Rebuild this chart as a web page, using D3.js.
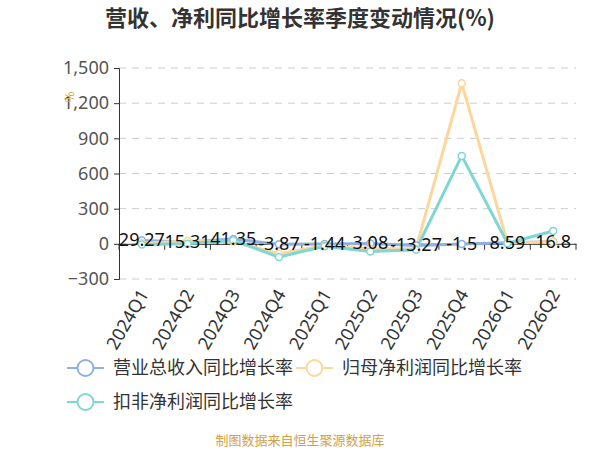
<!DOCTYPE html>
<html>
<head>
<meta charset="utf-8">
<script src="https://cdn.jsdelivr.net/npm/d3@7"></script>
<style>
  body { margin: 0; background: #fff; }
  text { font-family: "Noto Sans CJK SC", "Noto Sans", sans-serif; }
</style>
</head>
<body>
<div id="chart"></div>
<script>
let quarters = ["2024Q1", "2024Q2", "2024Q3", "2024Q4", "2025Q1", "2025Q2", "2025Q3", "2025Q4", "2026Q1", "2026Q2"]
let revenue = [29.27, 15.31, 41.35, -3.87, -1.44, 3.08, -13.27, -1.5, 8.59, 16.8]
let netProfit = [5, 25, 20, -85, -15, -45, -40, 1370, 10, 15]
let deductedProfit = [-5, 0, 30, -113, -20, -65, -50, 750, 5, 110]
let yTicks = [-300, 0, 300, 600, 900, 1200, 1500]
let seriesNames = ["营业总收入同比增长率", "归母净利润同比增长率", "扣非净利润同比增长率"]
let colors = ["#8fb0e0", "#fdd69b", "#80d6d6"]

let margin = {top: 68, right: 24, bottom: 171, left: 119}
let width = 600 - margin.left - margin.right
let height = 450 - margin.top - margin.bottom

let root = d3.select("#chart")
    .append("svg")
    .attr("width", 600)
    .attr("height", 450)

root.append("text")
    .attr("x", 300)
    .attr("y", 26)
    .attr("text-anchor", "middle")
    .style("font-size", "22px")
    .style("font-weight", "bold")
    .style("fill", "#333")
    .text("营收、净利同比增长率季度变动情况(%)")

let svg = root.append("g")
    .attr("transform", "translate(" + margin.left + "," + margin.top + ")")

let x = d3.scaleBand().domain(quarters).range([0, width])
let y = d3.scaleLinear().domain([-300, 1500]).range([height, 0])

// grid
svg.append("g")
    .selectAll("line")
    .data(yTicks)
    .enter()
    .append("line")
    .attr("x1", 0)
    .attr("x2", width)
    .attr("y1", d => y(d))
    .attr("y2", d => y(d))
    .attr("stroke", "#ccc")
    .attr("stroke-dasharray", "7,6")

// y axis
let yAxis = svg.append("g")
    .call(d3.axisLeft(y).tickValues(yTicks).tickSize(5).tickPadding(5).tickFormat(d3.format(",")))
yAxis.select(".domain").attr("stroke", "#333")
yAxis.selectAll(".tick line").attr("stroke", "#333")
yAxis.selectAll("text").style("font-size", "18px").style("fill", "#555")
    .style("font-family", "'Noto Sans', sans-serif")

// unit label
root.append("text")
    .attr("transform", "translate(74,97) rotate(-90)")
    .attr("text-anchor", "middle")
    .style("font-size", "12px")
    .style("fill", "#e0a040")
    .text("%")

// x axis at zero
let xAxis = svg.append("g")
    .attr("transform", "translate(0," + y(0) + ")")
    .call(d3.axisBottom(x).tickSize(0).tickFormat(""))
xAxis.select(".domain").attr("stroke", "#333")
xAxis.selectAll(".bt")
    .data(quarters.concat(["end"]))
    .enter()
    .append("line")
    .attr("x1", (d, i) => i * x.step())
    .attr("x2", (d, i) => i * x.step())
    .attr("y1", 0)
    .attr("y2", 6)
    .attr("stroke", "#333")

// category labels
svg.append("g")
    .selectAll("text")
    .data(quarters)
    .enter()
    .append("text")
    .attr("transform", d => "translate(" + (x(d) + x.bandwidth() / 2 + 2) + "," + (height + 12) + ") rotate(-60)")
    .attr("text-anchor", "end")
    .attr("dy", "0.35em")
    .style("font-size", "18px")
    .style("fill", "#333")
    .style("font-family", "'Noto Sans', sans-serif")
    .text(d => d)

let allSeries = [revenue, netProfit, deductedProfit]
let line = d3.line()
    .x((d, i) => x(quarters[i]) + x.bandwidth() / 2)
    .y(d => y(d))

allSeries.forEach((values, k) => {
    svg.append("path")
        .datum(values)
        .attr("d", line)
        .attr("fill", "none")
        .attr("stroke", colors[k])
        .attr("stroke-width", 3)
})

allSeries.forEach((values, k) => {
    svg.append("g")
        .selectAll("circle")
        .data(values)
        .enter()
        .append("circle")
        .attr("cx", (d, i) => x(quarters[i]) + x.bandwidth() / 2)
        .attr("cy", d => y(d))
        .attr("r", 3.5)
        .attr("fill", "#fff")
        .attr("stroke", colors[k])
        .attr("stroke-width", 1.5)
})

// value labels for revenue
svg.append("g")
    .selectAll("text")
    .data(revenue)
    .enter()
    .append("text")
    .attr("x", (d, i) => x(quarters[i]) + x.bandwidth() / 2)
    .attr("y", d => y(d) + 6)
    .attr("text-anchor", "middle")
    .style("font-size", "18px")
    .style("fill", "#111")
    .style("font-family", "'Noto Sans', sans-serif")
    .text(d => d)

// legend
let legendPos = [[67, 368], [296, 368], [67, 402]]
seriesNames.forEach((name, k) => {
    let g = root.append("g").attr("transform", "translate(" + legendPos[k][0] + "," + legendPos[k][1] + ")")
    g.append("line").attr("x1", 0).attr("x2", 37).attr("y1", 0).attr("y2", 0)
        .attr("stroke", colors[k]).attr("stroke-width", 2)
    g.append("circle").attr("cx", 18.5).attr("cy", 0).attr("r", 8)
        .attr("fill", "#fff").attr("stroke", colors[k]).attr("stroke-width", 2)
    g.append("text").attr("x", 46).attr("y", 0).attr("dy", "0.35em")
        .style("font-size", "18px").style("fill", "#333")
        .text(name)
})

root.append("text")
    .attr("x", 300)
    .attr("y", 445)
    .attr("text-anchor", "middle")
    .style("font-size", "13px")
    .style("fill", "#d4a045")
    .text("制图数据来自恒生聚源数据库")
</script>
</body>
</html>
